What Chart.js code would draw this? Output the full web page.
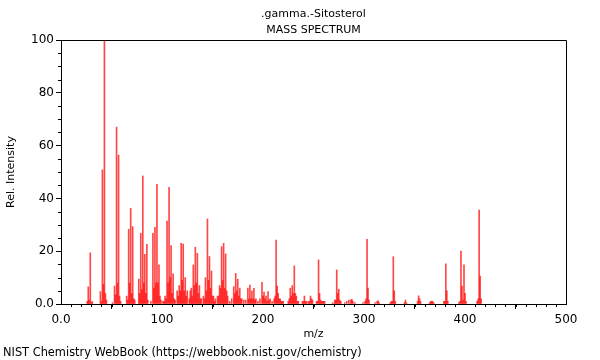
<!DOCTYPE html>
<html><head><meta charset="utf-8">
<script src="https://cdn.jsdelivr.net/npm/chart.js@4.4.0/dist/chart.umd.min.js"></script>
<style>html,body{margin:0;padding:0;background:#fff;}#wrap{width:600px;height:360px;}</style>
</head><body><div id="wrap"><canvas id="c" width="600" height="360"></canvas></div>
<script>
const chartTitle = ".gamma.-Sitosterol";
const chartSubtitle = "MASS SPECTRUM";
const xTitle = "m/z";
const yTitle = "Rel. Intensity";
const footer = "NIST Chemistry WebBook (https://webbook.nist.gov/chemistry)";
const xTicks = [0, 100, 200, 300, 400, 500];
const yTicks = [0, 20, 40, 60, 80, 100];
const mz = [26,27,28,29,30,31,39,40,41,42,43,44,45,51,53,54,55,56,57,58,59,65,66,67,68,69,70,71,72,73,77,78,79,80,81,82,83,84,85,86,89,91,92,93,94,95,96,97,98,99,101,102,103,104,105,106,107,108,109,110,111,112,113,115,116,117,118,119,120,121,122,123,124,125,127,128,129,130,131,132,133,134,135,136,137,138,139,141,142,143,144,145,146,147,148,149,150,151,152,153,155,156,157,158,159,160,161,162,163,164,165,167,169,171,172,173,174,175,176,177,178,179,181,183,185,186,187,188,189,190,191,192,193,195,197,199,200,201,202,203,204,205,206,207,209,211,212,213,214,215,216,217,218,219,220,225,226,227,228,229,230,231,232,233,234,235,239,240,241,242,243,245,246,247,248,249,253,254,255,256,257,258,259,260,261,269,271,272,273,274,275,276,277,281,283,285,287,288,289,291,299,301,302,303,304,305,311,313,314,315,326,327,328,329,330,331,340,341,342,353,354,355,356,365,366,367,368,369,379,380,381,382,383,394,395,396,397,398,399,400,401,412,413,414,415,416];
const intensity = [1,6.5,1.5,19.4,0.5,1,4.7,1,50.8,7.5,100,4,1.5,0.5,6.8,3.5,67,8,56.4,3,1,3,1.5,28.3,8,36.2,4,29.3,2,1.5,9.4,4,26.8,5.5,48.5,8,18.8,4,22.6,1.5,1,26.8,6,29,8,45.3,8,14.8,3,1.5,1,1,3,2,31.4,8,44.2,10,22.1,4,11.4,2,1.5,5,3,7,5,23,9,22.7,5,10,3,5,2,5,6,3,14.8,7,21.5,8,19.2,4,7,2,2,3,2,10,5,32.2,9,18,6,12.5,3,3,1,2,3,3,7,6,21.7,9,23,6,19,5,3,1,2,6.6,4,11.6,5,9.4,3,6,2,2,1.5,1.5,6,2,7.2,2,5,2,5.9,1.5,2,1,2,8.2,3,4.5,2,3,1,4.7,1.5,2,1,2,3,24.2,6.8,4,2,2,1,1,1,1,2,6,3,7,4,14.4,4,3,1,1,1,1,3,1,1,1,1,3,2,1.5,1,1,16.7,4,1.5,1,1,1,1,0.5,1.5,1.5,12.9,4,5.6,1.5,1,0.5,1,1.5,1.5,1.8,1,0.5,0.5,1,2,24.5,6,1.5,0.5,1,1.2,0.5,0.5,1,1,17.9,5,1,0.5,1.5,0.5,1,3.1,2,1,0.5,1,1,1,0.5,1,1,15.2,5,1,0.5,1,20,6.8,1.5,14.8,4,1,1,2,35.6,10.6,2];

const points = mz.map((m, i) => ({x: m, y: intensity[i]}));
const FONT = "'DejaVu Sans', sans-serif";

const decor = {
  id: 'decor',
  afterDraw(chart) {
    const ctx = chart.ctx;
    const a = chart.chartArea;
    const xs = chart.scales.x, ys = chart.scales.y;
    ctx.save();
    ctx.strokeStyle = '#000';
    ctx.lineWidth = 1;
    ctx.beginPath();
    ctx.rect(Math.round(a.left) + 0.5, Math.round(a.top) + 0.5, Math.round(a.right - a.left), Math.round(a.bottom - a.top));
    ctx.stroke();
    ctx.beginPath();
    for (let v = 0; v <= 500; v += 10) {
      if (v % 100 === 0) continue;
      const px = Math.round(xs.getPixelForValue(v)) + 0.5;
      ctx.moveTo(px, a.bottom); ctx.lineTo(px, a.bottom + 3);
    }
    for (let v = 0; v <= 100; v += 5) {
      if (v % 20 === 0) continue;
      const py = Math.round(ys.getPixelForValue(v)) + 0.5;
      ctx.moveTo(a.left, py); ctx.lineTo(a.left - 3, py);
    }
    ctx.stroke();
    ctx.fillStyle = '#000';
    ctx.font = "11px " + FONT;
    ctx.textAlign = 'center';
    ctx.textBaseline = 'middle';
    const cx = (a.left + a.right) / 2;
    ctx.fillText(chartTitle, cx, 14);
    ctx.fillText(chartSubtitle, cx, 30);
    ctx.fillText(xTitle, cx, 334);
    ctx.save();
    ctx.translate(11, (a.top + a.bottom) / 2);
    ctx.rotate(-Math.PI / 2);
    ctx.fillText(yTitle, 0, 0);
    ctx.restore();
    ctx.font = "11.4px " + FONT;
    ctx.textAlign = 'left';
    ctx.fillText(footer, 3, 353);
    ctx.restore();
  }
};

new Chart(document.getElementById('c'), {
  type: 'bar',
  data: { datasets: [{ data: points, backgroundColor: 'rgba(255,0,0,0.72)', borderWidth: 0, barThickness: 1 }] },
  options: {
    responsive: false,
    animation: false,
    events: [],
    layout: { padding: { left: 0, top: 40, right: 34, bottom: 0 } },
    plugins: { legend: { display: false }, tooltip: { enabled: false } },
    scales: {
      x: {
        type: 'linear', min: 0, max: 500, offset: false,
        afterFit(s) { s.height = 56; },
        afterBuildTicks(s) { s.ticks = xTicks.map(v => ({value: v})); },
        ticks: { callback: v => v === 0 ? '0.0' : String(v), color: '#000', font: { family: FONT, size: 12 }, padding: 4, maxRotation: 0 },
        grid: { drawOnChartArea: false, tickLength: 5, color: '#000' },
        border: { color: '#000' }
      },
      y: {
        min: 0, max: 100,
        afterFit(s) { s.width = 61; },
        afterBuildTicks(s) { s.ticks = yTicks.map(v => ({value: v})); },
        ticks: { callback: v => v === 0 ? '0.0' : String(v), color: '#000', font: { family: FONT, size: 12 }, padding: 2 },
        grid: { drawOnChartArea: false, tickLength: 5, color: '#000' },
        border: { color: '#000' }
      }
    }
  },
  plugins: [decor]
});
</script></body></html>
